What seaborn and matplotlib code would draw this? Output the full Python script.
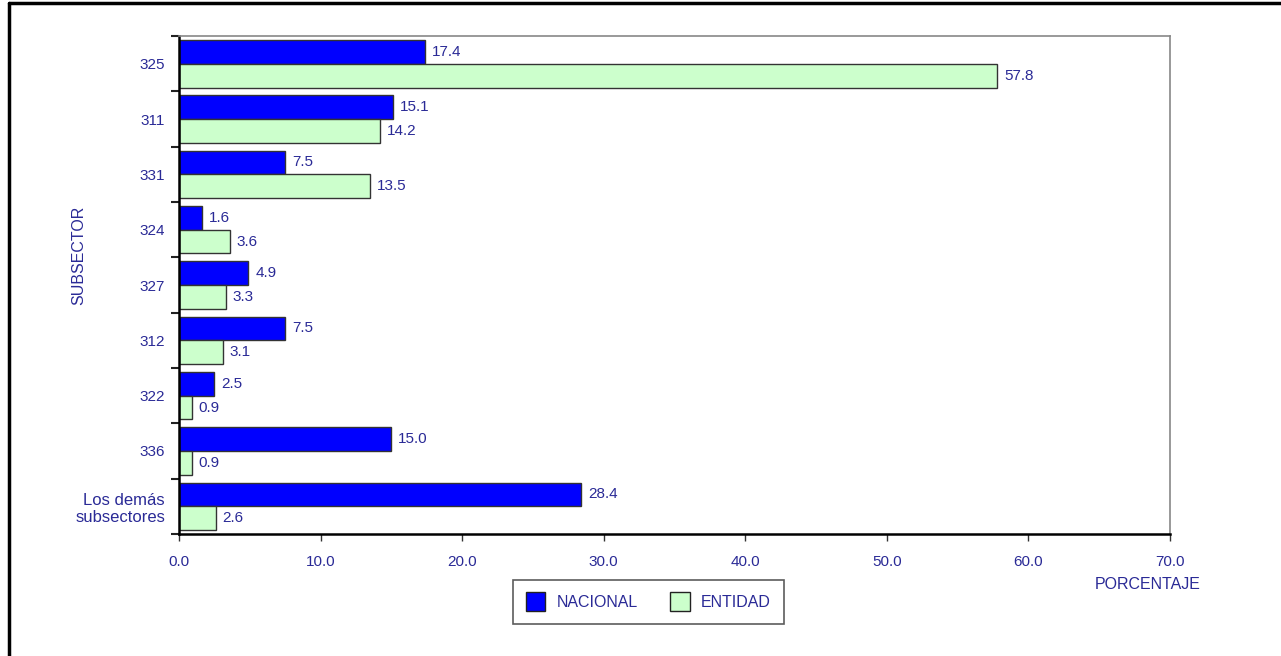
import pandas as pd
import seaborn as sns
import matplotlib.pyplot as plt
from matplotlib.lines import Line2D
from matplotlib.patches import Patch

# Data
subsectores = ["325", "311", "331", "324", "327", "312", "322", "336", "Los demás\nsubsectores"]
nacional = [17.4, 15.1, 7.5, 1.6, 4.9, 7.5, 2.5, 15.0, 28.4]
entidad = [57.8, 14.2, 13.5, 3.6, 3.3, 3.1, 0.9, 0.9, 2.6]
series = ["NACIONAL", "ENTIDAD"]
colores = ["#0000FF", "#CCFFCC"]
x_ticks = [0, 10, 20, 30, 40, 50, 60, 70]

TXT = "#2A2A96"

df = pd.DataFrame({
    "Subsector": subsectores * 2,
    "Serie": [series[0]] * len(subsectores) + [series[1]] * len(subsectores),
    "Valor": nacional + entidad,
})

sns.set_style("white")
plt.rcParams["font.family"] = ["Liberation Sans", "DejaVu Sans"]

fig = plt.figure(figsize=(12.81, 6.56), dpi=100)
ax = fig.add_axes([0.1397, 0.186, 0.9133 - 0.1397, 0.945 - 0.186])

sns.barplot(
    data=df, y="Subsector", x="Valor", hue="Serie", order=subsectores,
    hue_order=series, palette=colores, saturation=1, orient="h", width=0.86,
    edgecolor="#333333", linewidth=1, legend=False, ax=ax,
)

for cont in ax.containers:
    ax.bar_label(cont, fmt="%.1f", padding=5, color=TXT, fontsize=11)

ax.set_xlim(0, 70)
ax.set_ylim(len(subsectores) - 0.5, -0.5)
ax.set_xticks(x_ticks)
ax.set_xticklabels([f"{v:.1f}" for v in x_ticks], color=TXT, fontsize=11)
ax.tick_params(axis="x", which="major", direction="out", length=5, width=1,
               color="#333333", pad=10, bottom=True)

# y labels centred on groups, ticks on group boundaries
ax.set_yticks(range(len(subsectores)))
ax.set_yticklabels(subsectores, color=TXT, fontsize=11)
ax.get_yticklabels()[-1].set_fontsize(12)
ax.set_yticks([i - 0.5 for i in range(len(subsectores) + 1)], minor=True)
ax.tick_params(axis="y", which="major", length=0, pad=10)
ax.tick_params(axis="y", which="minor", direction="out", length=6, width=1.5,
               color="#222222", left=True)

ax.set_xlabel("")
ax.set_ylabel("SUBSECTOR", color=TXT, fontsize=11.5, labelpad=0)
ax.yaxis.set_label_coords(-0.094, 0.56)
fig.text(0.896, 0.109, "PORCENTAJE", color=TXT, fontsize=11.5, ha="center", va="center")

for side in ["left", "bottom"]:
    ax.spines[side].set_color("#000000")
    ax.spines[side].set_linewidth(1.8)
for side in ["top", "right"]:
    ax.spines[side].set_color("#888888")
    ax.spines[side].set_linewidth(1.2)
ax.grid(False)

handles = [Patch(facecolor=c, edgecolor="#222222", label=s) for c, s in zip(colores, series)]
leg = fig.legend(
    handles=handles, loc="center", bbox_to_anchor=(0.506, 0.0825), ncol=2,
    frameon=True, fancybox=False, edgecolor="#333333", fontsize=11.5,
    handlelength=1.25, handleheight=1.45, handletextpad=0.7, columnspacing=2.0,
    borderpad=0.8, borderaxespad=0,
)
leg.get_frame().set_linewidth(1.2)
for t in leg.get_texts():
    t.set_color(TXT)

# outer frame, cut off on right and bottom as in the reference
fig.add_artist(Line2D([9 / 1281, 1], [1 - 3 / 656, 1 - 3 / 656], color="black", lw=2.5,
                      transform=fig.transFigure))
fig.add_artist(Line2D([9 / 1281, 9 / 1281], [0, 1 - 3 / 656], color="black", lw=2.5,
                      transform=fig.transFigure))

fig.savefig("out.png", dpi=100)
